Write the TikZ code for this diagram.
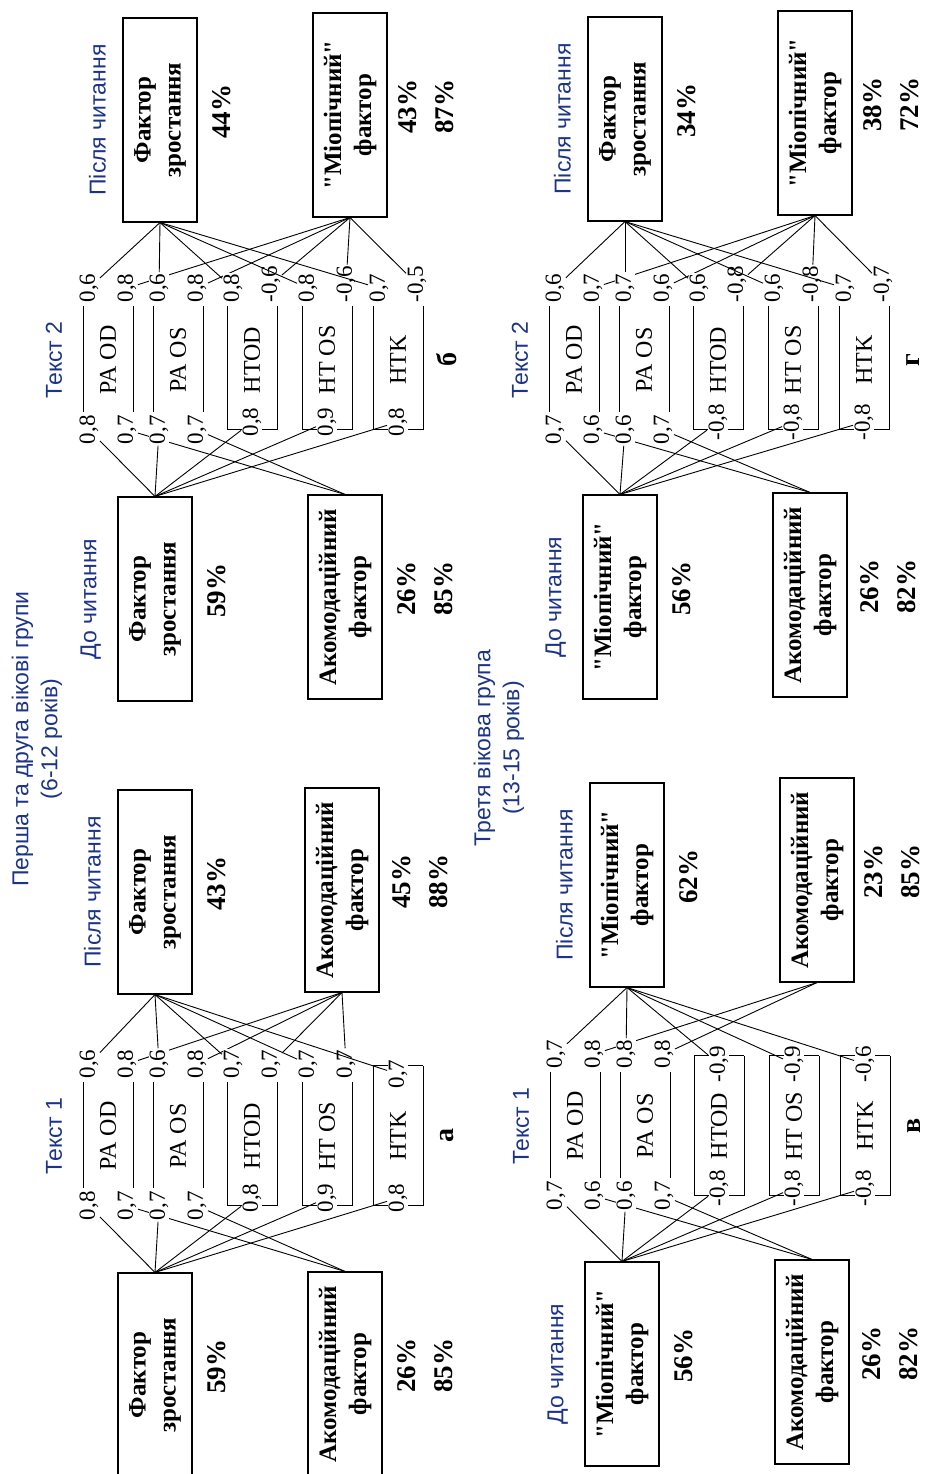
\documentclass[tikz,border=0pt]{standalone}
\usepackage{fontspec}
\setmainfont{Liberation Serif}
\newfontfamily\headfont{Liberation Sans}
\newfontfamily\plainfont{Liberation Serif}
\usetikzlibrary{positioning}
\definecolor{headblue}{RGB}{28,52,135}
\newcommand{\qq}{{\plainfont"}}
\tikzset{%
  % Specifications for style of nodes:
    factor/.style = {rectangle, draw=black, line width=1.1pt,
                     minimum width=204pt, minimum height=74pt,
                     align=center, inner sep=1pt,
                     font=\fontsize{25}{30}\selectfont\bfseries},
   vartext/.style = {inner sep=0pt, font=\fontsize{24}{26}\selectfont},
   loading/.style = {inner sep=1pt, fill=white,
                     font=\fontsize{23}{25}\selectfont},
   percent/.style = {align=center, inner sep=0pt, xshift=8pt,
                     font=\fontsize{27}{37}\selectfont\bfseries},
   heading/.style = {text=headblue, align=center, inner sep=0pt,
                     font=\headfont\fontsize{23}{29}\selectfont},
    letter/.style = {inner sep=0pt, font=\fontsize{28}{30}\selectfont\bfseries},
  loadline/.style = {line width=0.9pt},
}
% one variable of a panel: #1 panel, #2 name, #3 label, #4 depth,
% #5 #6 loadings before reading, #7 #8 loadings after reading
\newcommand{\loaditem}[8]{%
  \if\relax\detokenize{#6}\relax\def\vbL{268}\else\def\vbL{286}\fi
  \if\relax\detokenize{#8}\relax\def\vbR{408}\else\def\vbR{392}\fi
  \node[vartext] (#1#2) at (338,-#4) {#3};
  \draw (\vbL,-#4+25) -- (\vbR,-#4+25) (\vbL,-#4-25) -- (\vbR,-#4-25);
  \if\relax\detokenize{#6}\relax
    \draw (\vbL,-#4+25) -- (\vbL,-#4-25);
    \node[loading] (#1#2b) at (\vbL+8,-#4) {#5};
    \draw[loadline] (#1#2b) -- (#1B1.east);
  \else
    \node[loading, anchor=east] (#1#2b) at (\vbL-2,-#4+19) {#5};
    \node[loading, anchor=east] (#1#2bb) at (\vbL-2,-#4-19) {#6};
    \draw[loadline] (#1#2b) -- (#1B1.east);
    \draw[loadline] (#1#2bb) -- (#1B2.east);
  \fi
  \if\relax\detokenize{#8}\relax
    \draw (\vbR,-#4+25) -- (\vbR,-#4-25);
    \node[loading] (#1#2a) at (\vbR-8,-#4) {#7};
    \draw[loadline] (#1#2a) -- (#1A1.west);
  \else
    \node[loading, anchor=west] (#1#2a) at (\vbR+2,-#4+19) {#7};
    \node[loading, anchor=west] (#1#2aa) at (\vbR+2,-#4-19) {#8};
    \draw[loadline] (#1#2a) -- (#1A1.west);
    \draw[loadline] (#1#2aa) -- (#1A2.west);
  \fi
}

\begin{document}
\begin{tikzpicture}[x=1pt, y=1pt, line width=1pt]
  \useasboundingbox (0,0) rectangle (924,1474);
  \begin{scope}[rotate=90, transform shape]

  % titles of the age groups
  \node[heading] (groupA) at (735,-37) {Перша та друга вікові групи\\(6-12 років)};
  \node[heading] (groupB) at (726,-499) {Третя вікова група\\(13-15 років)};

  % panel a
  \begin{scope}
    \node[factor] (paB1) at (99,-155)  {Фактор\\зростання};
    \node[factor] (paB2) at (100,-345) {Акомодаційний\\фактор};
    \node[factor] (paA1) at (582,-155) {Фактор\\зростання};
    \node[factor] (paA2) at (584,-342) {Акомодаційний\\фактор};
    \node[percent, below=14pt of paB1] (paB1p) {59\%};
    \node[percent, below=14pt of paB2] (paB2p) {26\%\\85\%};
    \node[percent, below=14pt of paA1] (paA1p) {43\%};
    \node[percent, below=12pt of paA2] (paA2p) {45\%\\88\%};
    \node[heading, above=16pt of paA1] (paA1h) {Після читання};
    \node[heading] (patext) at (338,-54) {Текст 1};
    \node[letter]  (paname) at (338,-447) {а};
    \loaditem{pa}{pod}{PA OD}{108}{0,8}{0,7}{0,6}{0,8}
    \loaditem{pa}{pos}{PA OS}{178}{0,7}{0,7}{0,6}{0,8}
    \loaditem{pa}{htod}{HTOD}{252}{0,8}{}{0,7}{0,7}
    \loaditem{pa}{htos}{HT OS}{327}{0,9}{}{0,7}{0,7}
    \loaditem{pa}{htk}{HTK}{398}{0,8}{}{0,7}{}
  \end{scope}

  % panel b
  \begin{scope}[shift={(776,0)}]
    \node[factor] (pbB1) at (99,-155)  {Фактор\\зростання};
    \node[factor] (pbB2) at (101,-345) {Акомодаційний\\фактор};
    \node[factor] (pbA1) at (578,-160) {Фактор\\зростання};
    \node[factor] (pbA2) at (583,-350) {\qq Міопічний\qq\\фактор};
    \node[percent, below=14pt of pbB1] (pbB1p) {59\%};
    \node[percent, below=14pt of pbB2] (pbB2p) {26\%\\85\%};
    \node[percent, below=14pt of pbA1] (pbA1p) {44\%};
    \node[percent, below=10pt of pbA2] (pbA2p) {43\%\\87\%};
    \node[heading, above=16pt of pbB1] (pbB1h) {До читання};
    \node[heading, above=16pt of pbA1] (pbA1h) {Після читання};
    \node[heading] (pbtext) at (338,-54) {Текст 2};
    \node[letter]  (pbname) at (338,-447) {б};
    \loaditem{pb}{pod}{PA OD}{108}{0,8}{0,7}{0,6}{0,8}
    \loaditem{pb}{pos}{PA OS}{178}{0,7}{0,7}{0,6}{0,8}
    \loaditem{pb}{htod}{HTOD}{252}{0,8}{}{0,8}{-0,6}
    \loaditem{pb}{htos}{HT OS}{327}{0,9}{}{0,8}{-0,6}
    \loaditem{pb}{htk}{HTK}{398}{0,8}{}{0,7}{-0,5}
  \end{scope}

  % panel v
  \begin{scope}[shift={(10,-467)}]
    \node[factor] (pvB1) at (100,-155) {\qq Міопічний\qq\\фактор};
    \node[factor] (pvB2) at (102,-345) {Акомодаційний\\фактор};
    \node[factor] (pvA1) at (579,-160) {\qq Міопічний\qq\\фактор};
    \node[factor] (pvA2) at (584,-350) {Акомодаційний\\фактор};
    \node[percent, below=14pt of pvB1] (pvB1p) {56\%};
    \node[percent, below=12pt of pvB2] (pvB2p) {26\%\\82\%};
    \node[percent, below=14pt of pvA1] (pvA1p) {62\%};
    \node[percent, below=9pt of pvA2] (pvA2p) {23\%\\85\%};
    \node[heading, above=16pt of pvB1] (pvB1h) {До читання};
    \node[heading, above=16pt of pvA1] (pvA1h) {Після читання};
    \node[heading] (pvtext) at (338,-54) {Текст 1};
    \node[letter]  (pvname) at (338,-447) {в};
    \loaditem{pv}{pod}{PA OD}{108}{0,7}{0,6}{0,7}{0,8}
    \loaditem{pv}{pos}{PA OS}{178}{0,6}{0,7}{0,8}{0,8}
    \loaditem{pv}{htod}{HTOD}{252}{-0,8}{}{-0,9}{}
    \loaditem{pv}{htos}{HT OS}{327}{-0,8}{}{-0,9}{}
    \loaditem{pv}{htk}{HTK}{398}{-0,8}{}{-0,6}{}
  \end{scope}

  % panel g
  \begin{scope}[shift={(776,-466)}]
    \node[factor] (pgB1) at (101,-154) {\qq Міопічний\qq\\фактор};
    \node[factor] (pgB2) at (103,-344) {Акомодаційний\\фактор};
    \node[factor] (pgA1) at (579,-159) {Фактор\\зростання};
    \node[factor] (pgA2) at (585,-349) {\qq Міопічний\qq\\фактор};
    \node[percent, below=14pt of pgB1] (pgB1p) {56\%};
    \node[percent, below=12pt of pgB2] (pgB2p) {26\%\\82\%};
    \node[percent, below=14pt of pgA1] (pgA1p) {34\%};
    \node[percent, below=10pt of pgA2] (pgA2p) {38\%\\72\%};
    \node[heading, above=16pt of pgB1] (pgB1h) {До читання};
    \node[heading, above=16pt of pgA1] (pgA1h) {Після читання};
    \node[heading] (pgtext) at (338,-54) {Текст 2};
    \node[letter]  (pgname) at (338,-447) {г};
    \loaditem{pg}{pod}{PA OD}{108}{0,7}{0,6}{0,6}{0,7}
    \loaditem{pg}{pos}{PA OS}{178}{0,6}{0,7}{0,7}{0,6}
    \loaditem{pg}{htod}{HTOD}{252}{-0,8}{}{0,6}{-0,8}
    \loaditem{pg}{htos}{HT OS}{327}{-0,8}{}{0,6}{-0,8}
    \loaditem{pg}{htk}{HTK}{398}{-0,8}{}{0,7}{-0,7}
  \end{scope}

  \end{scope}
\end{tikzpicture}
\end{document}
